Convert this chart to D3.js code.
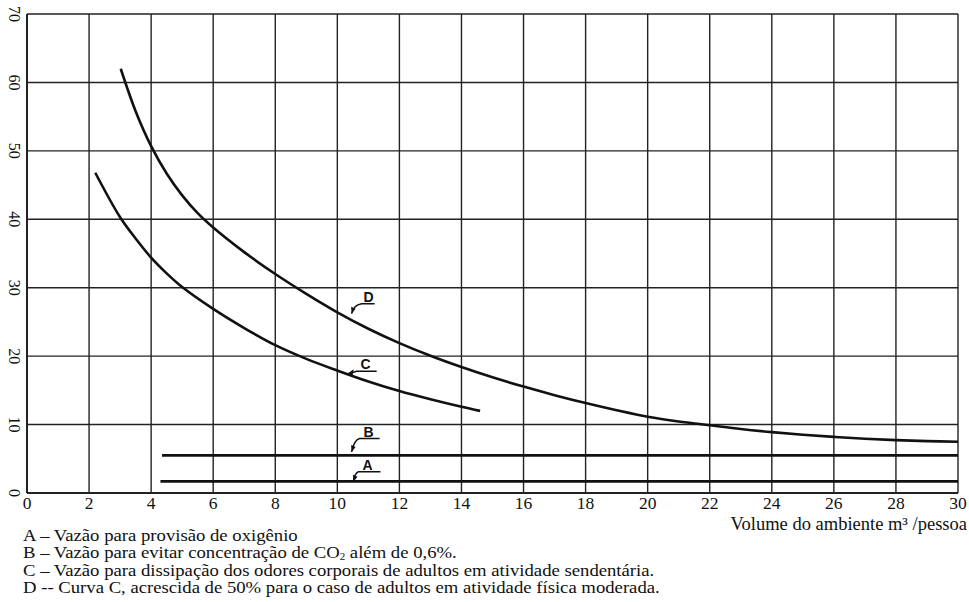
<!DOCTYPE html>
<html lang="pt">
<head>
  <meta charset="UTF-8" />
  <title>Vazão de ar x volume do ambiente</title>
  <script src="https://d3js.org/d3.v7.min.js"></script>
  <style>
    body { margin: 0; background: #fff; }
    svg { display: block; }
    text { font-family: "Liberation Serif", "Times New Roman", serif; fill: #111; }
    .grid line { stroke: #222; stroke-width: 1.4; }
    .curve { fill: none; stroke: #111; stroke-width: 2.6; }
    .lead { fill: none; stroke: #111; stroke-width: 1.5; }
    .tag { font-family: "Liberation Sans", Arial, sans-serif; font-weight: bold; font-size: 14px; }
  </style>
</head>
<body>
<svg id="chart" width="969" height="602"></svg>

<script>
// == DATA ==
const xTicks = [0, 2, 4, 6, 8, 10, 12, 14, 16, 18, 20, 22, 24, 26, 28, 30];
const yTicks = [0, 10, 20, 30, 40, 50, 60, 70];

// curva C - odores corporais, atividade sedentária
const cX = [2.2, 3, 3.5, 4, 4.5, 5, 6, 7, 8, 9, 10, 11, 12, 13, 14, 14.6];
const cY = [46.8, 40.3, 37.2, 34.4, 32.1, 30.1, 26.9, 24.1, 21.6, 19.6, 17.9, 16.3, 14.9, 13.7, 12.6, 12.0];

// curva D - C + 50%
const dX = [3.02, 3.5, 4, 4.5, 5, 5.5, 6, 7, 8, 9, 10, 11, 12, 13, 14, 15, 16, 17, 18, 19, 20, 21, 22, 23, 24, 25, 26, 27, 28, 29, 30];
const dY = [62, 55.8, 50.7, 46.7, 43.5, 40.9, 38.8, 35.2, 32.0, 29.1, 26.4, 24.0, 21.9, 20.05, 18.4, 16.9, 15.55, 14.3, 13.15, 12.1, 11.15, 10.45, 9.9, 9.35, 8.9, 8.52, 8.2, 7.93, 7.72, 7.58, 7.5];

// retas A e B
const bX = [4.35, 30];
const bY = [5.5, 5.5];
const aX = [4.3, 30];
const aY = [1.7, 1.7];

// rótulos das curvas: ponto onde a seta toca (dados)
const tagNames = ["D", "C", "B", "A"];
const tagX = [10.46, 10.3, 10.46, 10.52];
const tagY = [26.2, 17.35, 6.0, 1.65];

const xTitle = "Volume do ambiente m³ /pessoa";
const legendRows = [
  ["A – Vazão para provisão de oxigênio"],
  ["B – Vazão para evitar concentração de CO", "2", " além de 0,6%."],
  ["C – Vazão para dissipação dos odores corporais de adultos em atividade sendentária."],
  ["D -- Curva C, acrescida de 50% para o caso de adultos em atividade física moderada."]
];

// == CHART ==
const svg = d3.select("#chart");
const margin = { top: 14, right: 11, bottom: 109, left: 27 };
const W = 969 - margin.left - margin.right;
const H = 602 - margin.top - margin.bottom;

const x = d3.scaleLinear().domain([0, 30]).range([margin.left, margin.left + W]);
const y = d3.scaleLinear().domain([0, 70]).range([margin.top + H, margin.top]);

const grid = svg.append("g").attr("class", "grid");
grid.selectAll(".vx").data(xTicks).join("line")
  .attr("x1", d => x(d)).attr("x2", d => x(d))
  .attr("y1", y(0)).attr("y2", y(70))
  .style("stroke-width", d => (d === 0 ? 2 : 1.4));
grid.selectAll(".hy").data(yTicks).join("line")
  .attr("class", "hy")
  .attr("x1", x(0)).attr("x2", x(30))
  .attr("y1", d => y(d)).attr("y2", d => y(d))
  .style("stroke-width", d => (d === 0 ? 2 : 1.4));

// x tick labels
svg.append("g").selectAll("text").data(xTicks).join("text")
  .attr("x", d => x(d))
  .attr("y", y(0) + 16)
  .attr("text-anchor", "middle")
  .style("font-size", "17.5px")
  .text(d => d);

// y tick labels, rotated
svg.append("g").selectAll("text").data(yTicks).join("text")
  .attr("transform", d => `translate(14.5,${y(d)}) rotate(90)`)
  .attr("text-anchor", "middle")
  .attr("dominant-baseline", "central")
  .style("font-size", "16px")
  .text(d => d);

// curves
const line = d3.line().x(d => x(d[0])).y(d => y(d[1])).curve(d3.curveCatmullRom.alpha(0.5));
const series = [
  d3.zip(cX, cY),
  d3.zip(dX, dY),
  d3.zip(bX, bY),
  d3.zip(aX, aY)
];
svg.append("g").selectAll("path").data(series).join("path")
  .attr("class", "curve")
  .attr("d", line);

// labels with leader arrows (offsets in px from the tip)
const leaders = {
  D: { path: "M0,0 C1,-5 3,-9 10,-10 L23,-10", tx: 17, ty: -12 },
  C: { path: "M0,0 L10,-3 L30,-3", tx: 19, ty: -5 },
  B: { path: "M0,0 C1,-5 3,-12 8,-13.4 L28,-13.4", tx: 17, ty: -15 },
  A: { path: "M0,0 C0.5,-4 2,-9 5,-10 L27,-10", tx: 14, ty: -12 }
};
const tags = svg.append("g").selectAll("g").data(tagNames).join("g")
  .attr("transform", (d, i) => `translate(${x(tagX[i])},${y(tagY[i])})`);
tags.append("path").attr("class", "lead").attr("d", d => leaders[d].path);
tags.append("path")
  .attr("d", d => d === "C" ? "M0,0 L7,-5 L6,1 Z" : "M0,0 L-0.5,-7 L4,-5 Z")
  .attr("fill", "#111");
tags.append("text").attr("class", "tag")
  .attr("x", d => leaders[d].tx).attr("y", d => leaders[d].ty)
  .attr("text-anchor", "middle")
  .text(d => d);

// axis title
svg.append("text")
  .attr("x", 967).attr("y", 530)
  .attr("text-anchor", "end")
  .style("font-size", "18.5px")
  .text(xTitle);

// legend (reference type is a bit wider than Times)
const legend = svg.append("g")
  .attr("transform", "translate(23,0) scale(1.1,1)")
  .selectAll("text").data(legendRows).join("text")
  .attr("x", 0)
  .attr("y", (d, i) => 541 + i * 17.5)
  .style("font-size", "17px");
legend.each(function(parts) {
  const t = d3.select(this);
  parts.forEach((p, j) => {
    const span = t.append("tspan").text(p);
    if (j === 1) span.attr("dy", 2).style("font-size", "10px");
    if (j === 2) span.attr("dy", -2);
  });
});
</script>
</body>
</html>
